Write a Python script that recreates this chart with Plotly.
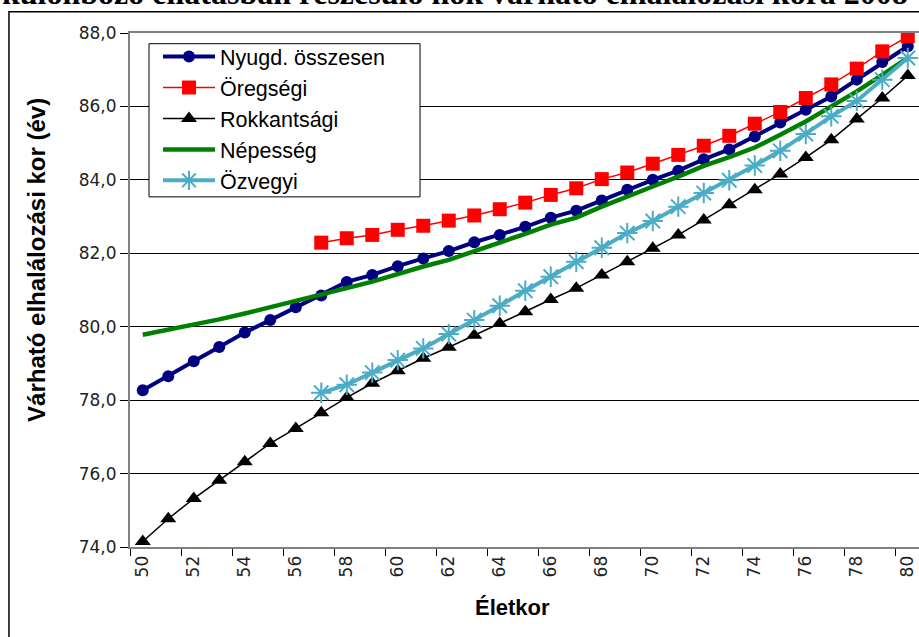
import plotly.graph_objects as go

# ---------------- data ----------------
ages = [str(a) for a in range(50, 81)]

nyugd_osszesen = [78.27, 78.65, 79.06, 79.45, 79.84, 80.18, 80.53, 80.85, 81.22, 81.41,
                  81.65, 81.86, 82.06, 82.30, 82.50, 82.72, 82.97, 83.16, 83.44, 83.73,
                  84.00, 84.25, 84.56, 84.83, 85.18, 85.56, 85.91, 86.27, 86.73, 87.21, 87.64]

oregsegi = [None, None, None, None, None, None, None,
            82.29, 82.41, 82.50, 82.64, 82.75, 82.89, 83.03, 83.20, 83.38, 83.59,
            83.77, 84.02, 84.20, 84.44, 84.68, 84.93, 85.20, 85.53, 85.85, 86.23,
            86.60, 87.03, 87.50, 87.91]

rokkantsagi = [74.15, 74.77, 75.32, 75.82, 76.32, 76.82, 77.23, 77.66, 78.07, 78.46,
               78.80, 79.14, 79.44, 79.77, 80.09, 80.41, 80.74, 81.05, 81.41, 81.77,
               82.14, 82.50, 82.91, 83.32, 83.73, 84.16, 84.61, 85.09, 85.66, 86.23, 86.84]

nepesseg = [79.78, 79.91, 80.05, 80.20, 80.36, 80.53, 80.68, 80.86, 81.05, 81.23,
            81.45, 81.64, 81.82, 82.05, 82.29, 82.53, 82.78, 82.97, 83.27, 83.53,
            83.82, 84.09, 84.38, 84.62, 84.88, 85.23, 85.59, 86.00, 86.41, 86.86, 87.32]

ozvegyi = [None, None, None, None, None, None, None,
           78.20, 78.42, 78.75, 79.09, 79.41, 79.80, 80.18, 80.57, 80.98, 81.36,
           81.77, 82.15, 82.55, 82.88, 83.27, 83.64, 83.99, 84.39, 84.79, 85.25,
           85.73, 86.15, 86.73, 87.32]

series_names = ["Nyugd. összesen", "Öregségi", "Rokkantsági", "Népesség", "Özvegyi"]

x_tick_labels = [str(a) for a in range(50, 81, 2)]
y_tick_values = [74, 76, 78, 80, 82, 84, 86, 88]
y_tick_labels = ["74,0", "76,0", "78,0", "80,0", "82,0", "84,0", "86,0", "88,0"]

title_text = "különböző ellátásban részesülő nők várható elhalálozási kora 2008"
y_title = "Várható elhalálozási kor (év)"
x_title = "Életkor"

# ---------------- figure ----------------
fig = go.Figure()

fig.add_trace(go.Scatter(
    x=ages, y=nyugd_osszesen, name=series_names[0], mode="lines+markers",
    line=dict(color="#000080", width=4),
    marker=dict(symbol="circle", size=12, color="#000080")))

fig.add_trace(go.Scatter(
    x=ages, y=oregsegi, name=series_names[1], mode="lines+markers",
    line=dict(color="#FF0000", width=1.5),
    marker=dict(symbol="square", size=14, color="#FF0000")))

fig.add_trace(go.Scatter(
    x=ages, y=rokkantsagi, name=series_names[2], mode="lines+markers",
    line=dict(color="#000000", width=1.5),
    marker=dict(symbol="triangle-up", size=14, color="#000000")))

fig.add_trace(go.Scatter(
    x=ages, y=nepesseg, name=series_names[3], mode="lines",
    line=dict(color="#008000", width=4.5)))

fig.add_trace(go.Scatter(
    x=ages, y=ozvegyi, name=series_names[4], mode="lines+markers",
    line=dict(color="#4BACC6", width=4),
    marker=dict(symbol="asterisk-open", size=17, color="#4BACC6",
                line=dict(color="#4BACC6", width=2))))

tick_font = dict(family="DejaVu Sans", size=17, color="#222222")

fig.update_layout(
    width=919, height=637,
    margin=dict(l=130, r=0, t=33, b=90),
    paper_bgcolor="white", plot_bgcolor="white",
    showlegend=True,
    legend=dict(
        x=0.0355, y=0.994, xanchor="left", yanchor="top",
        bgcolor="rgba(0,0,0,0)", borderwidth=0,
        font=dict(family="Liberation Sans", size=21.5, color="black"),
        itemwidth=52, tracegroupgap=0,
    ),
    xaxis=dict(
        type="category", range=[-0.5, 30.44],
        tickmode="array", tickvals=x_tick_labels, ticktext=x_tick_labels,
        tickangle=-90, ticks="outside", tickson="boundaries", ticklen=7,
        tickcolor="black", tickwidth=1,
        showline=True, linecolor="#808080", linewidth=2, mirror=True,
        showgrid=False, zeroline=False, tickfont=tick_font,
    ),
    yaxis=dict(
        range=[74, 88], tickmode="array", tickvals=y_tick_values, ticktext=y_tick_labels,
        ticks="outside", ticklen=8, tickcolor="black", tickwidth=1,
        showgrid=True, gridcolor="black", gridwidth=1,
        showline=True, linecolor="#808080", linewidth=2, mirror=False,
        zeroline=False, tickfont=tick_font,
    ),
    annotations=[
        dict(text=title_text, xref="paper", yref="paper", x=0.412, y=1.0385,
             xanchor="center", yanchor="bottom", showarrow=False,
             font=dict(family="Liberation Serif", size=32, color="black", weight="bold")),
        dict(text=y_title, xref="paper", yref="paper", x=-0.1179, y=0.5584,
             xanchor="center", yanchor="middle", textangle=-90, showarrow=False,
             font=dict(family="Liberation Sans", size=24, color="black", weight="bold")),
        dict(text=x_title, xref="paper", yref="paper", x=0.4854, y=-0.1175,
             xanchor="center", yanchor="middle", showarrow=False,
             font=dict(family="Liberation Sans", size=22, color="black", weight="bold")),
    ],
    shapes=[
        # outer chart border
        dict(type="rect", xref="paper", yref="paper", x0=-0.1534, x1=1.1, y0=-0.3, y1=1.0415,
             line=dict(color="black", width=1.5), fillcolor="rgba(0,0,0,0)", layer="above"),
        # legend box
        dict(type="rect", xref="paper", yref="paper", x0=0.0241, x1=0.3676, y0=0.6812, y1=0.9792,
             line=dict(color="black", width=1), fillcolor="white", layer="above"),
    ],
)

fig.write_html("out.html", config={"displayModeBar": False},
               post_script="document.body.style.margin='0';document.body.style.overflow='hidden';")
